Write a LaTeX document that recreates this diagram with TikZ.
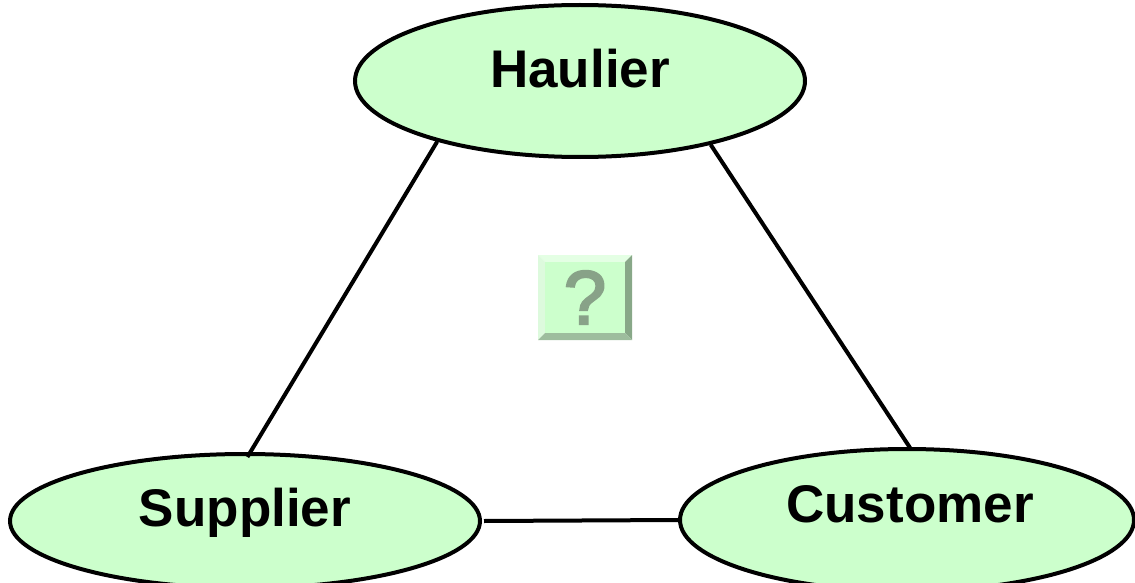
\documentclass[tikz,border=0pt]{standalone}
\usepackage{fontspec}
\setmainfont{Liberation Sans}
\usetikzlibrary{shapes.geometric}
\definecolor{partyfill}{HTML}{CCFFCC}
\definecolor{bevlight}{HTML}{E4FFE4}
\definecolor{bevlight2}{HTML}{DDFADD}
\definecolor{bevdark}{HTML}{88A888}
\definecolor{bevdark2}{HTML}{9DBD9D}
\definecolor{qmark}{HTML}{88A288}
\newfontfamily\qfont[FakeBold=3]{Liberation Sans}
\tikzset{
  party/.style={ellipse, draw=black, line width=4pt, fill=partyfill, inner sep=0pt},
  partytext/.style={anchor=base, font=\fontsize{53}{60}\selectfont\bfseries},
  link/.style={draw=black, line width=4pt},
}
\begin{document}
\begin{tikzpicture}[x=1pt,y=-1pt]
\useasboundingbox (0,0) rectangle (1135,583);
% the three parties
\node[party, minimum width=450pt, minimum height=152pt] (H) at (580,81) {};
\node[party, minimum width=470pt, minimum height=134pt] (S) at (245,521) {};
\node[party, minimum width=454pt, minimum height=142pt] (C) at (907,520) {};
\node[partytext] (Ht) at (580,88) {Haulier};
\node[partytext] (St) at (245,526) {Supplier};
\node[partytext] (Ct) at (910,522) {Customer};
% links between them
\draw[link] (H.203.5) -- ([yshift=-5pt]S.88);
\draw[link] (H.334.6) -- ([yshift=-2pt]C.87);
\draw[link] ([xshift=2pt]S.east) -- (C.west);
% bevelled question button
\fill[bevlight] (538,255) -- (632,255) -- (625,262) -- (545,262) -- cycle;
\fill[bevlight2] (538,255) -- (545,262) -- (545,333) -- (538,340) -- cycle;
\fill[bevdark] (632,255) -- (632,340) -- (625,333) -- (625,262) -- cycle;
\fill[bevdark2] (538,340) -- (545,333) -- (625,333) -- (632,340) -- cycle;
\fill[partyfill] (545,262) rectangle (625,333);
\node[font=\qfont\fontsize{76}{80}\selectfont, text=qmark, inner sep=0pt, anchor=base] (Q) at (585,324) {?};
\end{tikzpicture}
\end{document}
